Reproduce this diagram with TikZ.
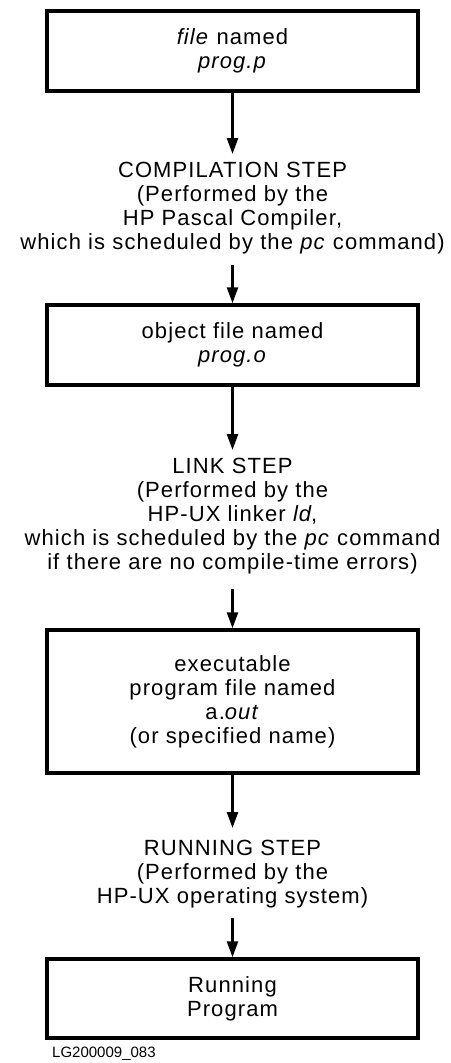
\documentclass[tikz,border=0pt]{standalone}
\usepackage{fontspec}
\setmainfont{Liberation Sans}[LetterSpace=5]
\newfontfamily\idfont{Liberation Sans}
\usetikzlibrary{arrows.meta}

\tikzset{
  box/.style={draw, line width=3.5pt, minimum width=371pt, minimum height=80pt,
    align=center, inner sep=0pt},
  steptext/.style={align=center, inner sep=0pt, anchor=north},
  flow/.style={line width=2.5pt, -{Triangle[length=16pt,width=11pt]}}
}

\begin{document}
\begin{tikzpicture}[x=1pt, y=1pt, every node/.style={font=\fontsize{22}{24}\selectfont}]
  \useasboundingbox (0,0) rectangle (450,-1063);
  % boxes
  \node[box] (F) at (232.5,-51) {\textit{file} named\\\textit{prog.p}};
  \node[box] (O) at (232.5,-345) {object file named\\\textit{prog.o}};
  \node[box, minimum height=143pt] (A) at (232.5,-701.5)
    {executable\\program file named\\a.\textit{out}\\(or specified name)};
  \node[box, minimum height=79pt] (R) at (232.5,-998.5) {Running\\Program};
  % steps
  \node[steptext] (C) at (232.5,-162) {COMPILATION STEP\\(Performed by the\\HP Pascal Compiler,\\which is scheduled by the \textit{pc} command)};
  \node[steptext] (L) at (232.5,-458) {LINK STEP\\(Performed by the\\HP-UX linker \textit{ld},\\which is scheduled by the \textit{pc} command\\if there are no compile-time errors)};
  \node[steptext] (S) at (232.5,-840) {RUNNING STEP\\(Performed by the\\HP-UX operating system)};
  \node[anchor=base west, inner sep=0pt, font=\idfont\fontsize{15}{17}\selectfont] (ID) at (52,-1057) {LG200009\_083};
  % arrows
  \draw[flow, shorten >=8pt] (F) -- (C);
  \draw[flow, shorten <=11pt] (C) -- (O);
  \draw[flow, shorten >=8pt] (O) -- (L);
  \draw[flow, shorten <=15pt] (L) -- (A);
  \draw[flow, shorten >=12pt] (A) -- (S);
  \draw[flow, shorten <=10pt] (S) -- (R);
\end{tikzpicture}
\end{document}
